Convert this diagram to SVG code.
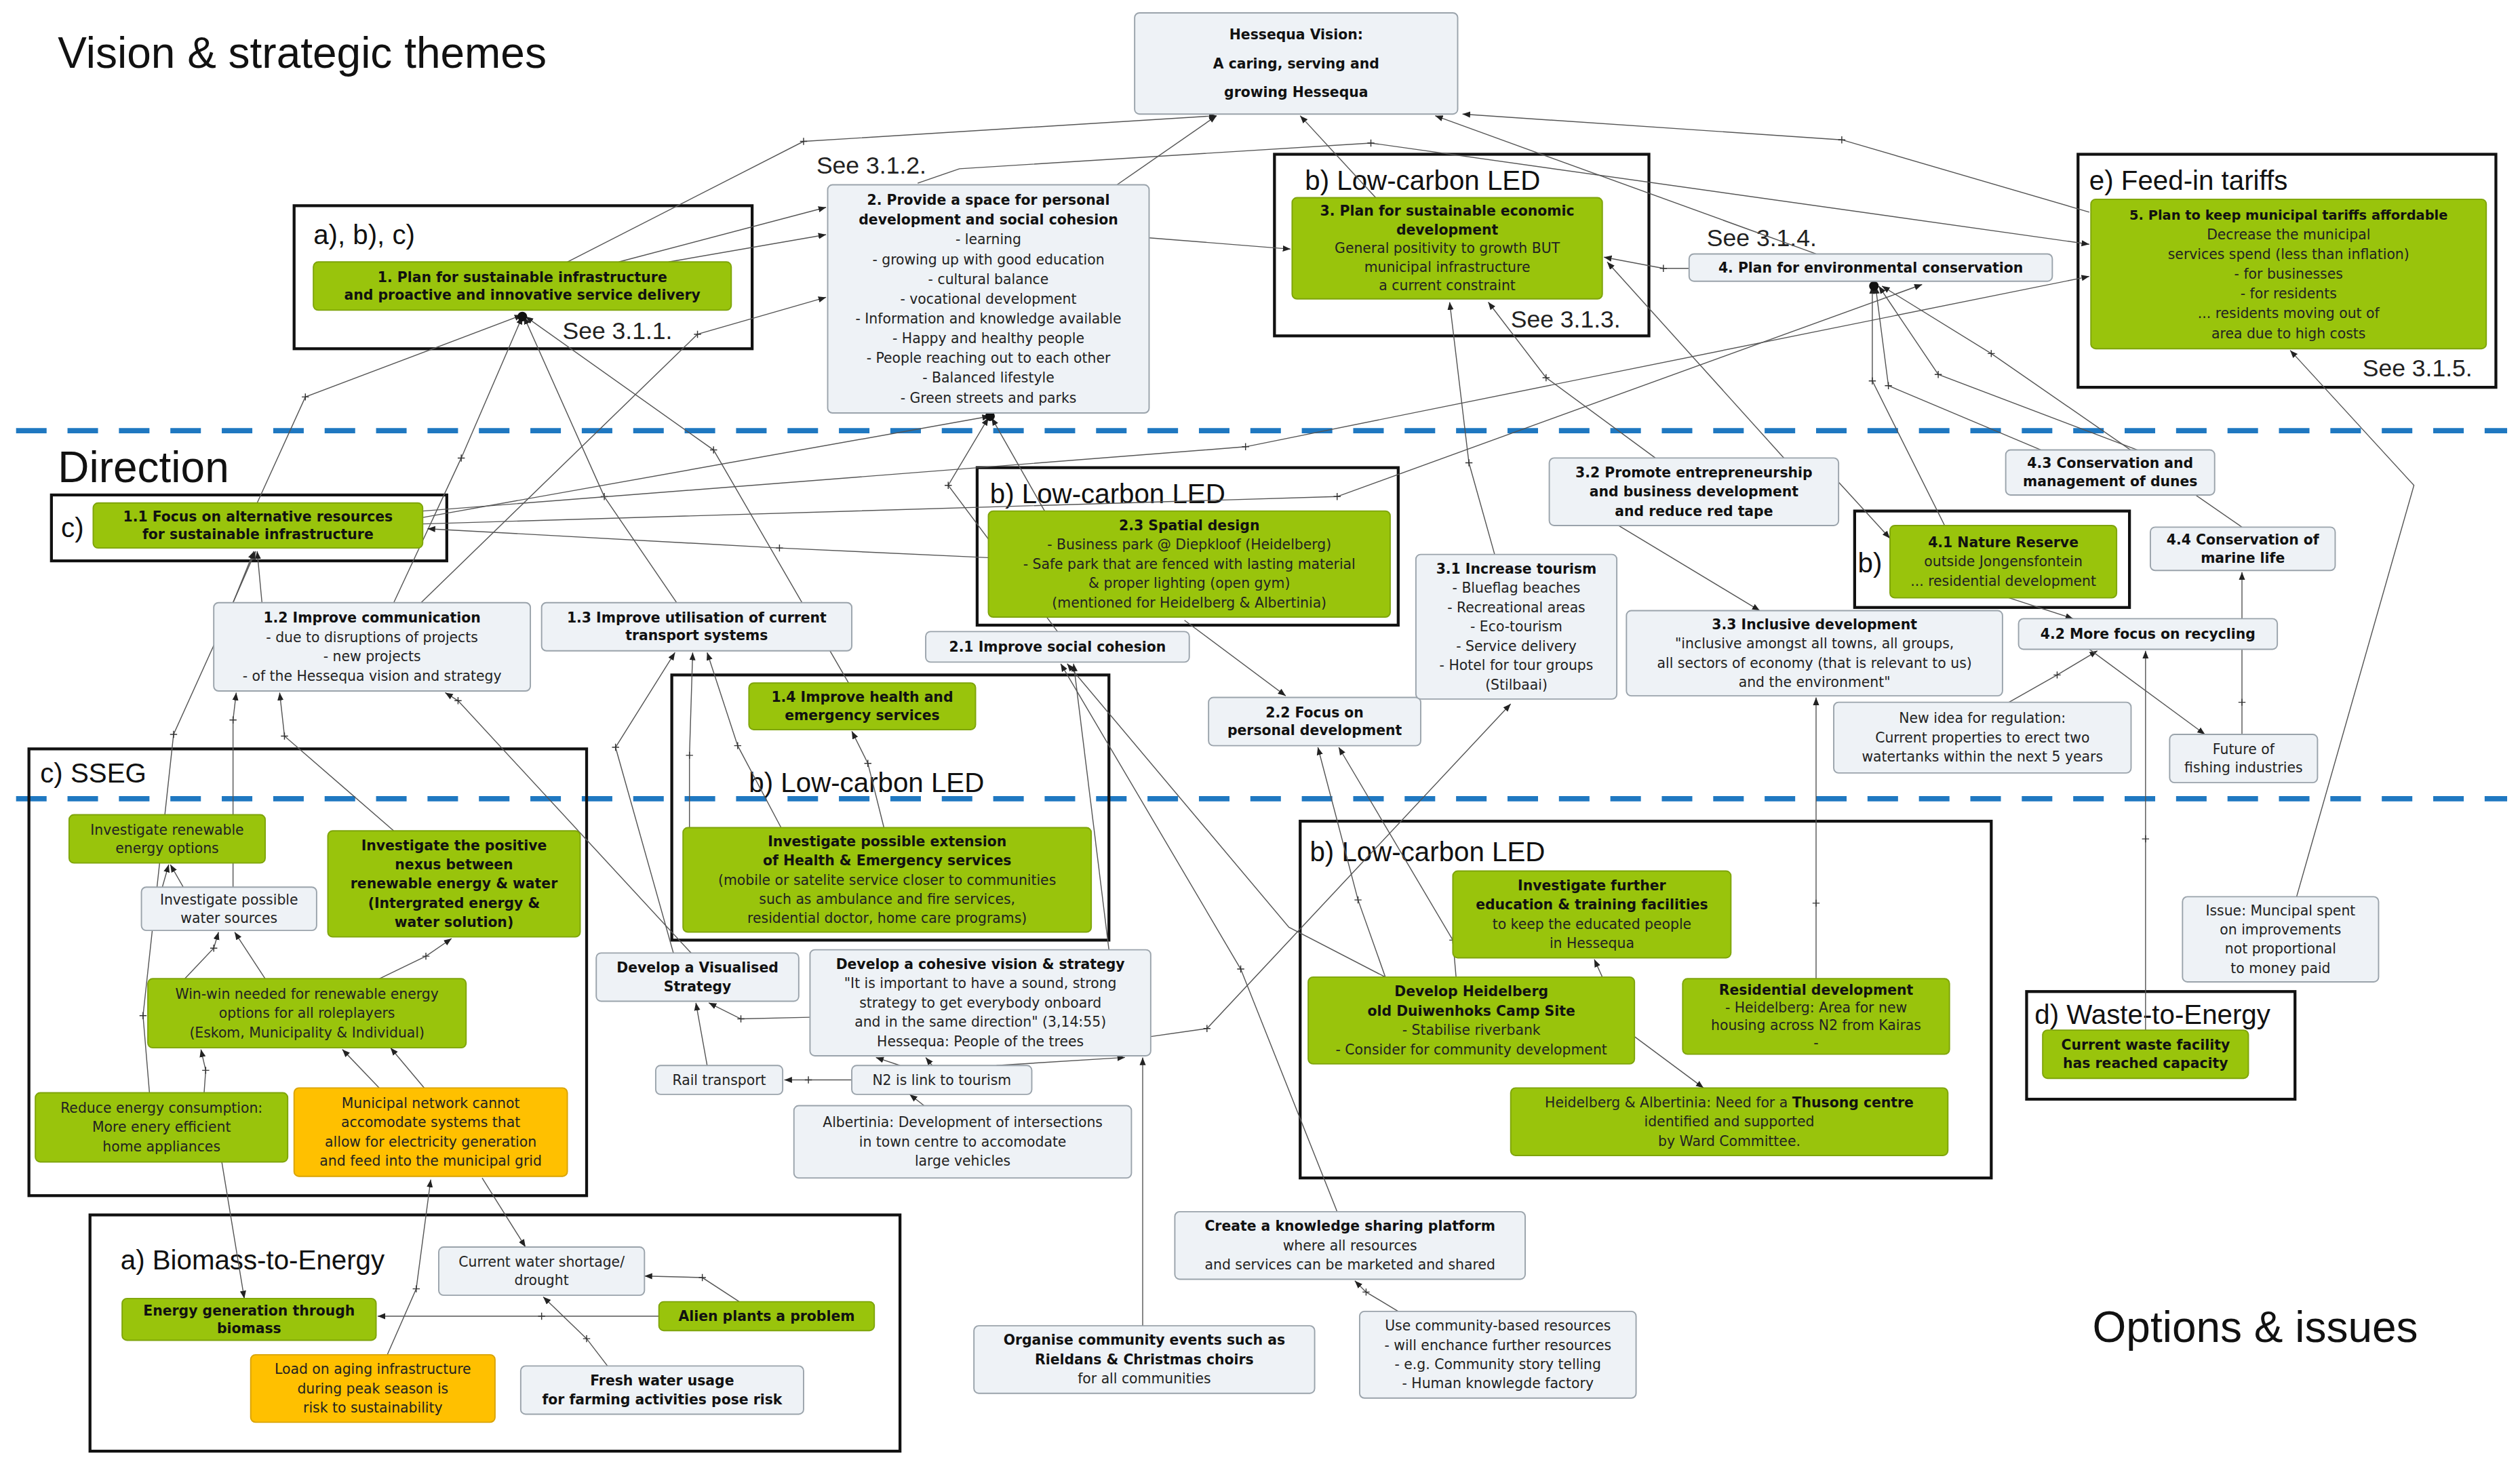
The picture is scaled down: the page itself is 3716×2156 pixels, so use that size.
<svg xmlns="http://www.w3.org/2000/svg" xmlns:xlink="http://www.w3.org/1999/xlink" width="3716" height="2156" viewBox="0 0 3716 2156">
<style>
.t{font-family:"Liberation Sans",Arial,sans-serif;fill:#111}
.h{font-family:"Liberation Sans",Arial,sans-serif;fill:#111;font-size:17px}
.s{font-family:"Liberation Sans",Arial,sans-serif;fill:#222;font-size:15px}
.n{font-family:"DejaVu Sans",Verdana,sans-serif;font-size:8.6px;fill:#222;text-anchor:middle;dominant-baseline:central}
.b{font-weight:bold;fill:#111}
.g{fill:#99c40c;stroke:#7ea40a;stroke-width:0.8}
.l{fill:#eef2f6;stroke:#9aa3ab;stroke-width:0.8}
.o{fill:#ffc000;stroke:#d9a300;stroke-width:0.8}
.grp{fill:none;stroke:#111;stroke-width:1.8}
.dash{stroke:#1f78c1;stroke-width:3.2;stroke-dasharray:19 13;fill:none}
.e{fill:none;stroke:#555;stroke-width:0.6;marker-end:url(#a)}
.p{stroke:#333;stroke-width:0.6;fill:none}
</style>
<defs>
<marker id="a" viewBox="0 0 10 10" refX="10" refY="5" markerWidth="8" markerHeight="8" orient="auto"><path d="M0,1L10,5L0,9z" fill="#222"/></marker>
<path id="pl" d="M-2.2,0H2.2M0,-2.2V2.2" class="p"/>
</defs>
<rect width="3716" height="2156" fill="#fff"/>
<g transform="scale(2.3699)">
<g id="titles">
<text class="t" x="36" y="42" font-size="27">Vision &amp; strategic themes</text>
<text class="t" x="36" y="300" font-size="27">Direction</text>
<text class="t" x="1302" y="835" font-size="27">Options &amp; issues</text>
</g>
<g id="dividers">
<line class="dash" x1="10" y1="268" x2="1560" y2="268"/>
<line class="dash" x1="10" y1="497" x2="1560" y2="497"/>
</g>
<g id="groups">
<rect class="grp" x="183" y="128" width="285" height="89"/><text class="h" x="195" y="152">a), b), c)</text><text class="s" x="350" y="211">See 3.1.1.</text>
<text class="s" x="508" y="108">See 3.1.2.</text>
<rect class="grp" x="793" y="96" width="233" height="113"/><text class="h" x="812" y="118">b) Low-carbon LED</text><text class="s" x="940" y="204">See 3.1.3.</text>
<text class="s" x="1062" y="153">See 3.1.4.</text>
<rect class="grp" x="1293" y="96" width="260" height="145"/><text class="h" x="1300" y="118">e) Feed-in tariffs</text><text class="s" x="1470" y="234">See 3.1.5.</text>
<rect class="grp" x="32" y="308" width="246" height="41"/><text class="h" x="38" y="334">c)</text>
<rect class="grp" x="608" y="291" width="262" height="98"/><text class="h" x="616" y="313">b) Low-carbon LED</text>
<rect class="grp" x="1154" y="318" width="171" height="60"/><text class="h" x="1156" y="356">b)</text>
<rect class="grp" x="418" y="420" width="272" height="165"/><text class="h" x="466" y="493">b) Low-carbon LED</text>
<rect class="grp" x="18" y="466" width="347" height="278"/><text class="h" x="25" y="487">c) SSEG</text>
<rect class="grp" x="56" y="756" width="504" height="147"/><text class="h" x="75" y="790">a) Biomass-to-Energy</text>
<rect class="grp" x="809" y="511" width="430" height="222"/><text class="h" x="815" y="536">b) Low-carbon LED</text>
<rect class="grp" x="1261" y="617" width="167" height="67"/><text class="h" x="1266" y="637">d) Waste-to-Energy</text>
</g>
<g id="connectors">
<polyline class="e" points="160,313 190,247 325,196"/><use href="#pl" x="190" y="247"/>
<polyline class="e" points="245,375 287,285 325,197"/><use href="#pl" x="287" y="285"/>
<polyline class="e" points="421,375 376,309 326,197"/><use href="#pl" x="376" y="309"/>
<polyline class="e" points="528,425 444,280 327,197"/><use href="#pl" x="444" y="280"/>
<polyline class="e" points="262,375 434,208 514,185"/><use href="#pl" x="434" y="208"/>
<polyline class="e" points="385,163 514,129"/>
<polyline class="e" points="416,163 514,146"/>
<polyline class="e" points="353,163 500,88 757,72"/><use href="#pl" x="500" y="88"/>
<polyline class="e" points="695,115 757,72"/>
<polyline class="e" points="856,123 809,72"/>
<polyline class="e" points="1300,132 1146,87 910,71"/><use href="#pl" x="1146" y="87"/>
<polyline class="e" points="571,114 597,105 853,89 1300,152"/><use href="#pl" x="853" y="89"/>
<polyline class="e" points="1130,158 893,72"/>
<polyline class="e" points="715,148 803,155"/>
<polyline class="e" points="1051,167 1035,167 998,160"/><use href="#pl" x="1035" y="167"/>
<polyline class="e" points="263,318 775,278 1300,172"/><use href="#pl" x="775" y="278"/>
<polyline class="e" points="263,326 832,309 1196,177"/><use href="#pl" x="832" y="309"/>
<polyline class="e" points="263,322 616,259"/>
<polyline class="e" points="615,347 485,341 266,329"/><use href="#pl" x="485" y="341"/>
<polyline class="e" points="650,318 617,260"/>
<polyline class="e" points="658,393 590,302 615,260"/><use href="#pl" x="590" y="302"/>
<polyline class="e" points="930,345 914,288 902,188"/><use href="#pl" x="914" y="288"/>
<polyline class="e" points="1030,285 962,235 926,188"/><use href="#pl" x="962" y="235"/>
<polyline class="e" points="1110,285 1000,163"/>
<polyline class="e" points="1210,327 1165,237 1165,178"/><use href="#pl" x="1165" y="237"/>
<polyline class="e" points="1270,280 1175,240 1167,178"/><use href="#pl" x="1175" y="240"/>
<polyline class="e" points="1330,280 1206,233 1169,178"/><use href="#pl" x="1206" y="233"/>
<polyline class="e" points="1395,328 1239,220 1171,178"/><use href="#pl" x="1239" y="220"/>
<polyline class="e" points="1007,327 1095,380"/>
<polyline class="e" points="1144,300 1176,335"/>
<polyline class="e" points="1250,372 1290,385"/>
<polyline class="e" points="1250,437 1280,420 1305,405"/><use href="#pl" x="1280" y="420"/>
<polyline class="e" points="1300,404 1372,457"/>
<polyline class="e" points="1395,457 1395,437 1395,356"/><use href="#pl" x="1395" y="437"/>
<polyline class="e" points="1335,641 1335,522 1335,405"/><use href="#pl" x="1335" y="522"/>
<polyline class="e" points="1130,609 1130,562 1130,434"/><use href="#pl" x="1130" y="562"/>
<polyline class="e" points="1429,558 1502,302 1425,218"/>
<polyline class="e" points="737,386 800,433"/>
<polyline class="e" points="862,608 845,560 820,465"/><use href="#pl" x="845" y="560"/>
<polyline class="e" points="906,608 904,585 833,465"/><use href="#pl" x="904" y="585"/>
<polyline class="e" points="716,645 751,640 940,438"/><use href="#pl" x="751" y="640"/>
<polyline class="e" points="832,754 772,603 660,413"/><use href="#pl" x="772" y="603"/>
<polyline class="e" points="862,608 802,577 664,413"/>
<polyline class="e" points="690,591 668,413"/>
<polyline class="e" points="550,515 540,475 530,455"/><use href="#pl" x="540" y="475"/>
<polyline class="e" points="419,593 383,465 420,406"/><use href="#pl" x="383" y="465"/>
<polyline class="e" points="429,515 429,470 431,406"/><use href="#pl" x="429" y="470"/>
<polyline class="e" points="486,515 459,464 440,406"/><use href="#pl" x="459" y="464"/>
<polyline class="e" points="430,593 285,436 277,431"/><use href="#pl" x="285" y="436"/>
<polyline class="e" points="145,375 159,343"/>
<polyline class="e" points="163,375 160,343"/>
<polyline class="e" points="93,680 89,632 108,457 145,375 158,343"/><use href="#pl" x="89" y="632"/><use href="#pl" x="108" y="457"/>
<polyline class="e" points="145,552 145,448 147,431"/><use href="#pl" x="145" y="448"/>
<polyline class="e" points="245,517 177,458 174,431"/><use href="#pl" x="177" y="458"/>
<polyline class="e" points="101,552 105,538"/>
<polyline class="e" points="114,552 106,538"/>
<polyline class="e" points="165,609 146,580"/>
<polyline class="e" points="115,609 133,590 136,580"/><use href="#pl" x="133" y="590"/>
<polyline class="e" points="236,609 265,595 281,584"/><use href="#pl" x="265" y="595"/>
<polyline class="e" points="127,680 128,666 125,653"/><use href="#pl" x="128" y="666"/>
<polyline class="e" points="236,677 213,653"/>
<polyline class="e" points="264,677 243,652"/>
<polyline class="e" points="241,843 259,802 268,734"/><use href="#pl" x="259" y="802"/>
<polyline class="e" points="300,733 327,776"/>
<polyline class="e" points="138,723 152,808"/>
<polyline class="e" points="410,819 337,819 235,819"/><use href="#pl" x="337" y="819"/>
<polyline class="e" points="460,810 437,795 401,794"/><use href="#pl" x="437" y="795"/>
<polyline class="e" points="378,850 365,833 338,807"/><use href="#pl" x="365" y="833"/>
<polyline class="e" points="504,633 461,634 441,624"/><use href="#pl" x="461" y="634"/>
<polyline class="e" points="440,663 433,624"/>
<polyline class="e" points="530,672 503,672 488,672"/><use href="#pl" x="503" y="672"/>
<polyline class="e" points="560,663 545,658"/>
<polyline class="e" points="580,663 576,658"/>
<polyline class="e" points="620,663 700,658"/>
<polyline class="e" points="575,688 566,681"/>
<polyline class="e" points="711,825 711,658"/>
<polyline class="e" points="870,816 850,804 843,797"/><use href="#pl" x="850" y="804"/>
<polyline class="e" points="1017,645 1060,677"/>
<polyline class="e" points="997,608 992,597"/>
</g>
<g id="dots" fill="#111"><circle cx="325" cy="197" r="3"/><circle cx="616" cy="259" r="3"/><circle cx="1166" cy="178" r="3"/></g>
<g id="vision"><rect class="l" x="706" y="8" width="201" height="63" rx="3"/><text class="n b" x="806.5" y="21.5" font-size="13.5"><tspan x="806.5">Hessequa Vision:</tspan><tspan x="806.5" dy="18">A caring, serving and</tspan><tspan x="806.5" dy="18">growing Hessequa</tspan></text></g>
<g id="n1"><rect class="g" x="195" y="163" width="260" height="30" rx="3"/><text class="n b" x="325" y="172.5" font-size="8.3"><tspan x="325">1. Plan for sustainable infrastructure</tspan><tspan x="325" dy="11">and proactive and innovative service delivery</tspan></text></g>
<g id="n2"><rect class="l" x="515" y="115" width="200" height="142" rx="3"/><text class="n" x="615" y="124.5"><tspan x="615" class="b">2. Provide a space for personal</tspan><tspan x="615" dy="12.3" class="b">development and social cohesion</tspan><tspan x="615" dy="12.3">- learning</tspan><tspan x="615" dy="12.3">- growing up with good education</tspan><tspan x="615" dy="12.3">- cultural balance</tspan><tspan x="615" dy="12.3">- vocational development</tspan><tspan x="615" dy="12.3">- Information and knowledge available</tspan><tspan x="615" dy="12.3">- Happy and healthy people</tspan><tspan x="615" dy="12.3">- People reaching out to each other</tspan><tspan x="615" dy="12.3">- Balanced lifestyle</tspan><tspan x="615" dy="12.3">- Green streets and parks</tspan></text></g>
<g id="n3"><rect class="g" x="804" y="123" width="193" height="63" rx="3"/><text class="n" x="900.5" y="131.3"><tspan x="900.5" class="b">3. Plan for sustainable economic</tspan><tspan x="900.5" dy="11.6" class="b">development</tspan><tspan x="900.5" dy="11.6">General positivity to growth BUT</tspan><tspan x="900.5" dy="11.6">municipal infrastructure</tspan><tspan x="900.5" dy="11.6">a current constraint</tspan></text></g>
<g id="n4"><rect class="l" x="1051" y="158" width="226" height="17" rx="3"/><text class="n b" x="1164" y="166.5">4. Plan for environmental conservation</text></g>
<g id="n5"><rect class="g" x="1301" y="124" width="246" height="93" rx="3"/><text class="n" x="1424" y="133.6"><tspan x="1424" class="b" font-size="8.2">5. Plan to keep municipal tariffs affordable</tspan><tspan x="1424" dy="12.3">Decrease the municipal</tspan><tspan x="1424" dy="12.3">services spend (less than inflation)</tspan><tspan x="1424" dy="12.3">- for businesses</tspan><tspan x="1424" dy="12.3">- for residents</tspan><tspan x="1424" dy="12.3">... residents moving out of</tspan><tspan x="1424" dy="12.3">area due to high costs</tspan></text></g>
<g id="n11"><rect class="g" x="58" y="313" width="205" height="28" rx="3"/><text class="n b" x="160.5" y="321.5"><tspan x="160.5">1.1 Focus on alternative resources</tspan><tspan x="160.5" dy="11">for sustainable infrastructure</tspan></text></g>
<g id="n12"><rect class="l" x="133" y="375" width="197" height="55" rx="3"/><text class="n" x="231.5" y="384.5"><tspan x="231.5" class="b">1.2 Improve communication</tspan><tspan x="231.5" dy="12">- due to disruptions of projects</tspan><tspan x="231.5" dy="12">- new projects</tspan><tspan x="231.5" dy="12">- of the Hessequa vision and strategy</tspan></text></g>
<g id="n13"><rect class="l" x="337" y="375" width="193" height="30" rx="3"/><text class="n b" x="433.5" y="384.5"><tspan x="433.5">1.3 Improve utilisation of current</tspan><tspan x="433.5" dy="11">transport systems</tspan></text></g>
<g id="n23"><rect class="g" x="615" y="318" width="250" height="66" rx="3"/><text class="n" x="740" y="327" font-size="8.3"><tspan x="740" class="b">2.3 Spatial design</tspan><tspan x="740" dy="12">- Business park @ Diepkloof (Heidelberg)</tspan><tspan x="740" dy="12">- Safe park that are fenced with lasting material</tspan><tspan x="740" dy="12">&amp; proper lighting (open gym)</tspan><tspan x="740" dy="12">(mentioned for Heidelberg &amp; Albertinia)</tspan></text></g>
<g id="n21"><rect class="l" x="576" y="393" width="164" height="19" rx="3"/><text class="n b" x="658" y="402.5">2.1 Improve social cohesion</text></g>
<g id="n22"><rect class="l" x="752" y="434" width="132" height="30" rx="3"/><text class="n b" x="818" y="443.5"><tspan x="818">2.2 Focus on</tspan><tspan x="818" dy="11">personal development</tspan></text></g>
<g id="n31"><rect class="l" x="881" y="345" width="125" height="90" rx="3"/><text class="n" x="943.5" y="354"><tspan x="943.5" class="b">3.1 Increase tourism</tspan><tspan x="943.5" dy="12">- Blueflag beaches</tspan><tspan x="943.5" dy="12">- Recreational areas</tspan><tspan x="943.5" dy="12">- Eco-tourism</tspan><tspan x="943.5" dy="12">- Service delivery</tspan><tspan x="943.5" dy="12">- Hotel for tour groups</tspan><tspan x="943.5" dy="12">(Stilbaai)</tspan></text></g>
<g id="n32"><rect class="l" x="964" y="285" width="180" height="42" rx="3"/><text class="n b" x="1054" y="294"><tspan x="1054">3.2 Promote entrepreneurship</tspan><tspan x="1054" dy="12">and business development</tspan><tspan x="1054" dy="12">and reduce red tape</tspan></text></g>
<g id="n33"><rect class="l" x="1012" y="380" width="234" height="53" rx="3"/><text class="n" x="1129" y="388.5" font-size="8.3"><tspan x="1129" class="b">3.3 Inclusive development</tspan><tspan x="1129" dy="12">"inclusive amongst all towns, all groups,</tspan><tspan x="1129" dy="12">all sectors of economy (that is relevant to us)</tspan><tspan x="1129" dy="12">and the environment"</tspan></text></g>
<g id="n41"><rect class="g" x="1176" y="327" width="141" height="45" rx="3"/><text class="n" x="1246.5" y="337.5"><tspan x="1246.5" class="b">4.1 Nature Reserve</tspan><tspan x="1246.5" dy="12">outside Jongensfontein</tspan><tspan x="1246.5" dy="12">... residential development</tspan></text></g>
<g id="n43"><rect class="l" x="1248" y="280" width="130" height="28" rx="3"/><text class="n b" x="1313" y="288.3"><tspan x="1313">4.3 Conservation and</tspan><tspan x="1313" dy="11.5">management of dunes</tspan></text></g>
<g id="n44"><rect class="l" x="1338" y="328" width="115" height="27" rx="3"/><text class="n b" x="1395.5" y="335.8"><tspan x="1395.5">4.4 Conservation of</tspan><tspan x="1395.5" dy="11.5">marine life</tspan></text></g>
<g id="n42"><rect class="l" x="1256" y="385" width="161" height="19" rx="3"/><text class="n b" x="1336.5" y="394.5">4.2 More focus on recycling</text></g>
<g id="newidea"><rect class="l" x="1141" y="437" width="185" height="44" rx="3"/><text class="n" x="1233.5" y="447"><tspan x="1233.5">New idea for regulation:</tspan><tspan x="1233.5" dy="12">Current properties to erect two</tspan><tspan x="1233.5" dy="12">watertanks within the next 5 years</tspan></text></g>
<g id="fishing"><rect class="l" x="1350" y="457" width="92" height="30" rx="3"/><text class="n" x="1396" y="466.3"><tspan x="1396">Future of</tspan><tspan x="1396" dy="11.5">fishing industries</tspan></text></g>
<g id="n14"><rect class="g" x="466" y="425" width="141" height="29" rx="3"/><text class="n b" x="536.5" y="433.8"><tspan x="536.5">1.4 Improve health and</tspan><tspan x="536.5" dy="11.5">emergency services</tspan></text></g>
<g id="ext"><rect class="g" x="425" y="515" width="254" height="65" rx="3"/><text class="n" x="552" y="523.5" font-size="8.3"><tspan x="552" class="b">Investigate possible extension</tspan><tspan x="552" dy="12" class="b">of Health &amp; Emergency services</tspan><tspan x="552" dy="12">(mobile or satelite service closer to communities</tspan><tspan x="552" dy="12">such as ambulance and fire services,</tspan><tspan x="552" dy="12">residential doctor, home care programs)</tspan></text></g>
<g id="renew"><rect class="g" x="43" y="507" width="122" height="30" rx="3"/><text class="n" x="104" y="516.3"><tspan x="104">Investigate renewable</tspan><tspan x="104" dy="11.5">energy options</tspan></text></g>
<g id="nexus"><rect class="g" x="204" y="517" width="157" height="66" rx="3"/><text class="n b" x="282.5" y="526"><tspan x="282.5">Investigate the positive</tspan><tspan x="282.5" dy="12">nexus between</tspan><tspan x="282.5" dy="12">renewable energy &amp; water</tspan><tspan x="282.5" dy="12">(Intergrated energy &amp;</tspan><tspan x="282.5" dy="12">water solution)</tspan></text></g>
<g id="water"><rect class="l" x="88" y="552" width="109" height="27" rx="3"/><text class="n" x="142.5" y="559.8"><tspan x="142.5">Investigate possible</tspan><tspan x="142.5" dy="11.5">water sources</tspan></text></g>
<g id="winwin"><rect class="g" x="92" y="609" width="198" height="43" rx="3"/><text class="n" x="191" y="618.5"><tspan x="191">Win-win needed for renewable energy</tspan><tspan x="191" dy="12">options for all roleplayers</tspan><tspan x="191" dy="12">(Eskom, Municipality &amp; Individual)</tspan></text></g>
<g id="reduce"><rect class="g" x="22" y="680" width="157" height="43" rx="3"/><text class="n" x="100.5" y="689.5"><tspan x="100.5">Reduce energy consumption:</tspan><tspan x="100.5" dy="12">More enery efficient</tspan><tspan x="100.5" dy="12">home appliances</tspan></text></g>
<g id="municipal"><rect class="o" x="183" y="677" width="170" height="55" rx="3"/><text class="n" x="268" y="686.5" font-size="8.3"><tspan x="268">Municipal network cannot</tspan><tspan x="268" dy="12">accomodate systems that</tspan><tspan x="268" dy="12">allow for electricity generation</tspan><tspan x="268" dy="12">and feed into the municipal grid</tspan></text></g>
<g id="energygen"><rect class="g" x="76" y="808" width="158" height="26" rx="3"/><text class="n b" x="155" y="815.5"><tspan x="155">Energy generation through</tspan><tspan x="155" dy="11">biomass</tspan></text></g>
<g id="load"><rect class="o" x="156" y="843" width="152" height="42" rx="3"/><text class="n" x="232" y="852"><tspan x="232">Load on aging infrastructure</tspan><tspan x="232" dy="12">during peak season is</tspan><tspan x="232" dy="12">risk to sustainability</tspan></text></g>
<g id="shortage"><rect class="l" x="273" y="776" width="128" height="30" rx="3"/><text class="n" x="337" y="785.3"><tspan x="337">Current water shortage/</tspan><tspan x="337" dy="11.5">drought</tspan></text></g>
<g id="alien"><rect class="g" x="410" y="810" width="134" height="18" rx="3"/><text class="n b" x="477" y="819">Alien plants a problem</text></g>
<g id="fresh"><rect class="l" x="324" y="850" width="176" height="30" rx="3"/><text class="n b" x="412" y="859.3"><tspan x="412">Fresh water usage</tspan><tspan x="412" dy="11.5">for farming activities pose risk</tspan></text></g>
<g id="visualised"><rect class="l" x="371" y="593" width="126" height="30" rx="3"/><text class="n b" x="434" y="602.3"><tspan x="434">Develop a Visualised</tspan><tspan x="434" dy="11.5">Strategy</tspan></text></g>
<g id="cohesive"><rect class="l" x="504" y="591" width="212" height="66" rx="3"/><text class="n" x="610" y="600"><tspan x="610" class="b">Develop a cohesive vision &amp; strategy</tspan><tspan x="610" dy="12">"It is important to have a sound, strong</tspan><tspan x="610" dy="12">strategy to get everybody onboard</tspan><tspan x="610" dy="12">and in the same direction" (3,14:55)</tspan><tspan x="610" dy="12">Hessequa: People of the trees</tspan></text></g>
<g id="rail"><rect class="l" x="408" y="663" width="79" height="18" rx="3"/><text class="n" x="447.5" y="672">Rail transport</text></g>
<g id="n2link"><rect class="l" x="530" y="663" width="112" height="18" rx="3"/><text class="n" x="586" y="672">N2 is link to tourism</text></g>
<g id="albertinia"><rect class="l" x="494" y="688" width="210" height="45" rx="3"/><text class="n" x="599" y="698.5"><tspan x="599">Albertinia: Development of intersections</tspan><tspan x="599" dy="12">in town centre to accomodate</tspan><tspan x="599" dy="12">large vehicles</tspan></text></g>
<g id="knowledge"><rect class="l" x="731" y="754" width="218" height="42" rx="3"/><text class="n" x="840" y="763"><tspan x="840" class="b">Create a knowledge sharing platform</tspan><tspan x="840" dy="12">where all resources</tspan><tspan x="840" dy="12">and services can be marketed and shared</tspan></text></g>
<g id="organise"><rect class="l" x="606" y="825" width="212" height="42" rx="3"/><text class="n" x="712" y="834"><tspan x="712" class="b">Organise community events such as</tspan><tspan x="712" dy="12" class="b">Rieldans &amp; Christmas choirs</tspan><tspan x="712" dy="12">for all communities</tspan></text></g>
<g id="usecomm"><rect class="l" x="846" y="816" width="172" height="54" rx="3"/><text class="n" x="932" y="825"><tspan x="932">Use community-based resources</tspan><tspan x="932" dy="12">- will enchance further resources</tspan><tspan x="932" dy="12">- e.g. Community story telling</tspan><tspan x="932" dy="12">- Human knowlegde factory</tspan></text></g>
<g id="furtheredu"><rect class="g" x="904" y="542" width="173" height="54" rx="3"/><text class="n" x="990.5" y="551"><tspan x="990.5" class="b">Investigate further</tspan><tspan x="990.5" dy="12" class="b">education &amp; training facilities</tspan><tspan x="990.5" dy="12">to keep the educated people</tspan><tspan x="990.5" dy="12">in Hessequa</tspan></text></g>
<g id="heidelberg"><rect class="g" x="814" y="608" width="203" height="54" rx="3"/><text class="n" x="915.5" y="617"><tspan x="915.5" class="b">Develop Heidelberg</tspan><tspan x="915.5" dy="12" class="b">old Duiwenhoks Camp Site</tspan><tspan x="915.5" dy="12">- Stabilise riverbank</tspan><tspan x="915.5" dy="12">- Consider for community development</tspan></text></g>
<g id="residential"><rect class="g" x="1047" y="609" width="166" height="47" rx="3"/><text class="n" x="1130" y="616"><tspan x="1130" class="b">Residential development</tspan><tspan x="1130" dy="11">- Heidelberg: Area for new</tspan><tspan x="1130" dy="11">housing across N2 from Kairas</tspan><tspan x="1130" dy="11">-</tspan></text></g>
<g id="thusong"><rect class="g" x="940" y="677" width="272" height="42" rx="3"/><text class="n" x="1076" y="686"><tspan x="1076">Heidelberg &amp; Albertinia: Need for a <tspan class="b">Thusong centre</tspan></tspan><tspan x="1076" dy="12">identified and supported</tspan><tspan x="1076" dy="12">by Ward Committee.</tspan></text></g>
<g id="issue"><rect class="l" x="1358" y="558" width="122" height="53" rx="3"/><text class="n" x="1419" y="566.5"><tspan x="1419">Issue: Muncipal spent</tspan><tspan x="1419" dy="12">on improvements</tspan><tspan x="1419" dy="12">not proportional</tspan><tspan x="1419" dy="12">to money paid</tspan></text></g>
<g id="waste"><rect class="g" x="1271" y="641" width="128" height="30" rx="3"/><text class="n b" x="1335" y="650.3"><tspan x="1335">Current waste facility</tspan><tspan x="1335" dy="11.5">has reached capacity</tspan></text></g>
</g>
</svg>
